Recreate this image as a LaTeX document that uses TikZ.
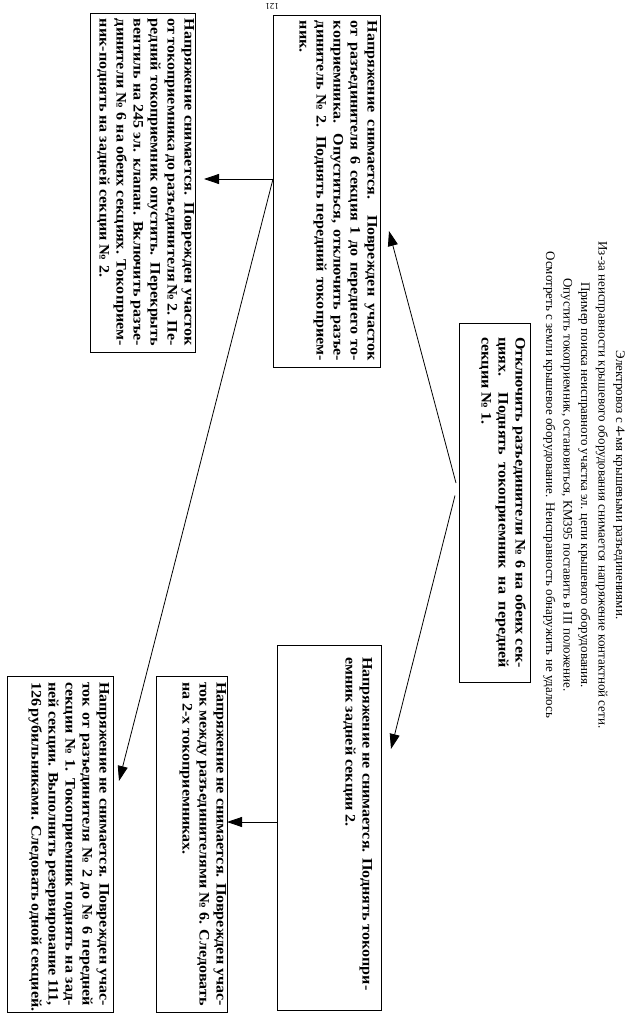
\documentclass[tikz,border=0pt]{standalone}
\usepackage{fontspec}
\setmainfont{Liberation Serif}
\newfontfamily\bxfont[FakeStretch=1.11]{Liberation Serif}
\usetikzlibrary{arrows.meta,calc}
\newcommand\jl[1]{\makebox[\linewidth][s]{#1}\par}
\newcommand\lastl[1]{\mbox{#1}\par}
\newcommand\bxt[4]{\parbox[c][#2][t]{#1}{\vspace*{#3}\bxfont\fontsize{14.5}{17}\bfseries\selectfont #4}}
\begin{document}
\begin{tikzpicture}[x=1pt,y=-1pt,
  tbox/.style={draw, line width=0.9pt, rotate=-90, inner xsep=6pt, inner ysep=0pt, outer sep=0pt, anchor=center},
  arr/.style={line width=0.8pt, -{Triangle[length=15pt,width=10pt]}},
  ln/.style={line width=0.8pt}]
\useasboundingbox (0,0) rectangle (642,1032);
\fill[white] (0,0) rectangle (642,1032);
\node[rotate=180, font=\fontsize{9}{10}\selectfont] (pg) at (272,6) {121};
\node[rotate=-90, align=center, font=\fontsize{13}{17.5}\selectfont, inner sep=0pt] (hd) at (584,485) {%
Электровоз с 4-мя крышевыми разъединениями.\\
Из-за неисправности крышевого оборудования снимается напряжение контактной сети.\\
Пример поиска неисправного участка эл. цепи крышевого оборудования.\\
Опустить токоприемник, остановиться, КМ395 поставить в III положение.\\
Осмотреть с земли крышевое оборудование. Неисправность обнаружить не удалось};
% box 1
\node[tbox, inner xsep=14pt] (b1) at (494.5,502.5) {\bxt{331pt}{71pt}{4pt}{%
\jl{Отключить разъединители № 6 на обеих сек-}
\jl{циях. Поднять токоприемник на передней}
\lastl{секции № 1.}}};
% box 2
\node[tbox] (b2) at (326.5,191) {\bxt{340pt}{107pt}{3pt}{%
\jl{Напряжение снимается. Поврежден участок}
\jl{от разъединителя 6 секция 1 до переднего то-}
\jl{коприемника. Опуститься, отключить разъе-}
\jl{динитель № 2. Поднять передний токоприем-}
\lastl{ник.}}};
% box 3
\node[tbox] (b3) at (142.5,182.5) {\bxt{327pt}{105pt}{1pt}{%
\jl{Напряжение снимается. Поврежден участок}
\jl{от токоприемника до разъединителя № 2. Пе-}
\jl{редний токоприемник опустить. Перекрыть}
\jl{вентиль на 245 эл. клапан. Включить разъе-}
\jl{динители № 6 на обеих секциях. Токоприем-}
\lastl{ник-поднять на задней секции № 2.}}};
% box 4
\node[tbox, inner xsep=12pt] (b4) at (329,827.5) {\bxt{341pt}{104pt}{9pt}{%
\lastl{Напряжение не снимается. Поднять токопри-}
\lastl{емник задней секции 2.}}};
% box 5
\node[tbox] (b5) at (191.5,844) {\bxt{324pt}{71pt}{1pt}{%
\jl{Напряжение не снимается. Поврежден учас-}
\jl{ток между разъединителями № 6. Следовать}
\lastl{на 2-х токоприемниках.}}};
% box 6
\node[tbox] (b6) at (60,844) {\bxt{324pt}{106pt}{4pt}{%
\jl{Напряжение не снимается. Поврежден учас-}
\jl{ток от разъединителя № 2 до № 6 передней}
\jl{секции № 1. Токоприемник поднять на зад-}
\jl{ней секции. Выполнить резервирование 111,}
\jl{126 рубильниками. Следовать одной секцией.}}};
% connectors
\coordinate (t2) at (389,231);
\coordinate (t4) at (391,749);
\coordinate (t6) at (119,781);
\coordinate (t3) at (204,179);
\coordinate (c4) at (277,822);
\draw[arr] ([xshift=-3pt,yshift=19.5pt]b1.south) -- (t2);
\draw[arr] ([xshift=-4pt,yshift=7pt]b1.south) -- (t4);
\draw[arr] ([yshift=12pt]b2.south) -- (t3);
\draw[arr] ([yshift=12pt]b2.south) -- (t6);
\draw[arr] (c4) -- (c4 -| b5.north);
\end{tikzpicture}
\end{document}
